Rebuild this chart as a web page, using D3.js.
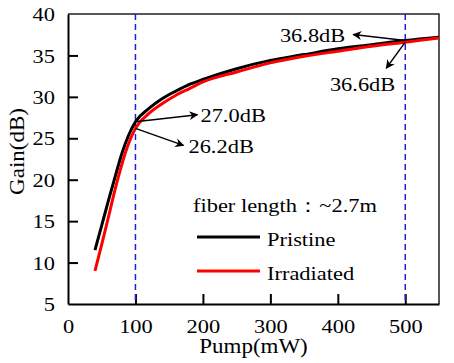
<!DOCTYPE html>
<html>
<head>
<meta charset="utf-8">
<script src="https://cdn.jsdelivr.net/npm/d3@7"></script>
<style>
    body { margin: 0; background: #fff; }
    text { font-family: "Liberation Serif", "Times New Roman", serif; fill: #000; }
</style>
</head>
<body>
<div id="chart"></div>
<script>
// Pump power (mW) sample points
const pumpPower = [40, 50, 60, 70, 80, 90, 100, 120, 140, 160, 180, 200, 250, 300, 350, 400, 450, 500, 550];
const gainPristine = [11.5, 14.5, 17.5, 20.4, 23.2, 25.4, 27.0, 28.6, 29.8, 30.7, 31.5, 32.1, 33.4, 34.4, 35.1, 35.8, 36.3, 36.8, 37.2];
const gainIrradiated = [9.0, 12.2, 15.5, 18.9, 21.9, 24.4, 26.2, 28.0, 29.2, 30.2, 31.0, 31.8, 33.0, 34.1, 34.9, 35.5, 36.1, 36.6, 37.1];

const xTicks = [0, 100, 200, 300, 400, 500];
const yTicks = [5, 10, 15, 20, 25, 30, 35, 40];
const markerPump = [100, 500];

const annotationPump = [100, 100, 500, 500];
const annotationGain = [27.0, 26.2, 36.8, 36.6];
const annotationLabels = ["27.0dB", "26.2dB", "36.8dB", "36.6dB"];

const seriesNames = ["Pristine", "Irradiated"];
const legendTitle = "fiber length：~2.7m";

// the original font is a little wider than Liberation Serif
const SX = 1.15;

function putText(sel, x, y) {
    return sel.attr("transform", `translate(${x},${y}) scale(${SX},1)`);
}

class GainVis {
    constructor(_parentElement) {
        this.parentElement = _parentElement;
        this.initVis();
    }

    initVis() {
        let vis = this;

        vis.margin = { top: 14, right: 15, bottom: 59, left: 68 };
        vis.width = 454 - vis.margin.left - vis.margin.right;
        vis.height = 363 - vis.margin.top - vis.margin.bottom;

        vis.svg = d3.select("#" + vis.parentElement)
            .append("svg")
            .attr("width", 454)
            .attr("height", 363)
            .append("g")
            .attr("transform", `translate(${vis.margin.left},${vis.margin.top})`);

        vis.x = d3.scaleLinear().domain([0, 550]).range([0, vis.width]);
        vis.y = d3.scaleLinear().domain([5, 40]).range([vis.height, 0]);

        // arrow head
        vis.svg.append("defs").append("marker")
            .attr("id", "arrow")
            .attr("viewBox", "0 0 10 10")
            .attr("refX", 9)
            .attr("refY", 5)
            .attr("markerWidth", 10)
            .attr("markerHeight", 9)
            .attr("markerUnits", "userSpaceOnUse")
            .attr("orient", "auto")
            .append("path")
            .attr("d", "M0,0 L10,5 L0,10 L3,5 Z")
            .attr("fill", "#000");

        // frame (top / right)
        vis.svg.append("path")
            .attr("d", `M0,0 H${vis.width} V${vis.height}`)
            .attr("fill", "none")
            .attr("stroke", "#222")
            .attr("stroke-width", 1.5);

        // axes
        vis.xAxis = vis.svg.append("g")
            .attr("class", "x-axis")
            .attr("transform", `translate(0,${vis.height})`)
            .call(d3.axisBottom(vis.x).tickValues(xTicks).tickSize(-10).tickSizeOuter(0));

        vis.yAxis = vis.svg.append("g")
            .attr("class", "y-axis")
            .call(d3.axisLeft(vis.y).tickValues(yTicks).tickSize(-10).tickSizeOuter(0));

        vis.svg.selectAll(".x-axis, .y-axis")
            .attr("font-family", "'Liberation Serif', 'Times New Roman', serif")
            .attr("font-size", 19.5);
        vis.svg.selectAll(".x-axis path, .y-axis path, .x-axis line, .y-axis line")
            .attr("stroke", "#000").attr("stroke-width", 2);
        vis.svg.selectAll(".x-axis .tick").filter(d => d === 0).select("line").remove();
        vis.svg.selectAll(".y-axis .tick").filter(d => d === 5 || d === 40).select("line").remove();

        vis.svg.selectAll(".x-axis text")
            .attr("y", null).attr("dy", null)
            .call(putText, 0, 29);
        vis.svg.selectAll(".y-axis text")
            .attr("x", null)
            .attr("dy", "0.34em")
            .call(putText, -13, 0);

        // axis titles
        vis.svg.append("text")
            .attr("text-anchor", "middle")
            .style("font-size", "20px")
            .call(putText, vis.width / 2, vis.height + 49)
            .text("Pump(mW)");

        vis.svg.append("text")
            .attr("transform", `translate(${-44},${vis.height / 2 - 7.5}) rotate(-90) scale(${SX},1)`)
            .attr("text-anchor", "middle")
            .style("font-size", "20px")
            .text("Gain(dB)");

        vis.updateVis();
    }

    updateVis() {
        let vis = this;

        // dashed markers
        vis.svg.selectAll(".marker-line")
            .data(markerPump)
            .enter().append("line")
            .attr("class", "marker-line")
            .attr("x1", d => vis.x(d))
            .attr("x2", d => vis.x(d))
            .attr("y1", 0)
            .attr("y2", vis.height)
            .attr("stroke", "#1f1fd6")
            .attr("stroke-width", 1.5)
            .attr("stroke-dasharray", "6,4");

        // curves
        let line = d3.line()
            .x((d, i) => vis.x(pumpPower[i]))
            .y(d => vis.y(d))
            .curve(d3.curveMonotoneX);

        let colors = ["#000", "#ff0000"];
        [gainPristine, gainIrradiated].forEach((series, i) => {
            vis.svg.append("path")
                .datum(series)
                .attr("d", line)
                .attr("fill", "none")
                .attr("stroke", colors[i])
                .attr("stroke-width", 3);
        });

        // annotations: arrow offsets and label positions relative to the point
        let arrowOffsets = [[62, -7], [48, 17], [-52, -6], [-19, 26]];
        let labelOffsets = [[65, 0], [53, 25], [-60, 1], [-10, 49]];
        let labelAnchors = ["start", "start", "end", "end"];

        annotationLabels.forEach((label, i) => {
            let px = vis.x(annotationPump[i]);
            let py = vis.y(annotationGain[i]);
            vis.svg.append("line")
                .attr("x1", px)
                .attr("y1", py)
                .attr("x2", px + arrowOffsets[i][0])
                .attr("y2", py + arrowOffsets[i][1])
                .attr("stroke", "#000")
                .attr("stroke-width", 1.5)
                .attr("marker-end", "url(#arrow)");
            vis.svg.append("text")
                .attr("text-anchor", labelAnchors[i])
                .style("font-size", "19.5px")
                .call(putText, px + labelOffsets[i][0], py + labelOffsets[i][1])
                .text(label);
        });

        // legend
        let legend = vis.svg.append("g")
            .attr("transform", `translate(${193 - vis.margin.left},${212 - vis.margin.top})`);

        legend.append("text")
            .style("font-size", "19.5px")
            .call(putText, 0, 0)
            .text(legendTitle);

        seriesNames.forEach((name, i) => {
            legend.append("line")
                .attr("x1", 4)
                .attr("x2", 67)
                .attr("y1", 25 + i * 34)
                .attr("y2", 25 + i * 34)
                .attr("stroke", colors[i])
                .attr("stroke-width", 3);
            legend.append("text")
                .style("font-size", "19.5px")
                .call(putText, 74, 34 + i * 34)
                .text(name);
        });
    }
}

new GainVis("chart");
</script>
</body>
</html>
